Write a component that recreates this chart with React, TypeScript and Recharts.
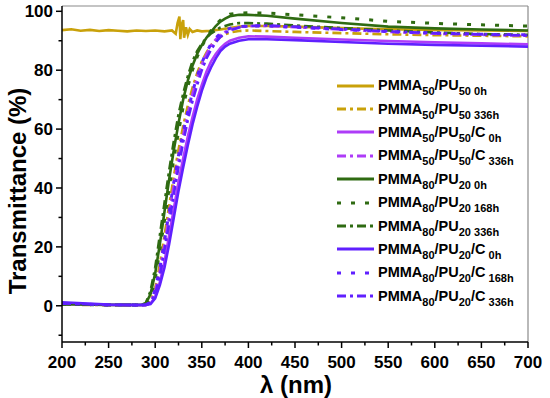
import React from 'react';
import { LineChart, Line, XAxis, YAxis, ReferenceLine, Legend, Label } from 'recharts';

// wavelength grid (nm) shared by the nine curves that start near 0 %
const wavelength = [200, 250, 285, 290, 295, 300, 305, 310, 315, 320, 325, 330, 335, 340, 345, 350, 355, 360, 365, 370, 375, 380, 390, 400, 420, 450, 500, 550, 600, 650, 700];

const pmma50pu50_336h = [0.4, 0.2, 0.2, 0.3, 1.5, 6, 14, 24, 34, 44, 53, 61, 68, 74, 79, 83, 86, 88.5, 90, 91.3, 92.2, 92.8, 93.3, 93.5, 93.3, 93, 92.6, 92.2, 91.9, 91.7, 91.5];
const pmma50pu50c_0h = [0.6, 0.3, 0.2, 0.3, 0.8, 3, 8, 15, 24, 33, 42, 50, 57.5, 64, 70, 75, 79.5, 83, 85.5, 87.5, 89, 90, 91, 91.5, 91.4, 91, 90.4, 89.9, 89.5, 89.1, 88.8];
const pmma50pu50c_336h = [0.5, 0.3, 0.2, 0.3, 1.2, 5, 12, 21, 31, 41, 50, 58, 65.5, 72, 77.5, 82, 85.5, 88.5, 90.5, 92, 93, 93.8, 94.5, 95, 95, 94.6, 93.8, 93, 92.4, 92, 91.7];
const pmma80pu20_0h = [0.5, 0.3, 0.3, 0.8, 4, 11, 21, 32, 43, 53, 62, 70, 76.5, 81.5, 85.5, 88.5, 91, 93, 95, 96.5, 97.5, 98.3, 98.8, 98.8, 98.5, 97.5, 96, 94.8, 94.2, 93.8, 93.5];
const pmma80pu20_168h = [0.5, 0.3, 0.3, 0.6, 3, 9, 19, 29, 40, 50, 59, 67.5, 74.5, 80, 84.5, 88, 91, 93.5, 95.5, 97, 98.2, 99, 99.4, 99.5, 99.4, 98.8, 97.8, 96.6, 95.9, 95.4, 95];
const pmma80pu20_336h = [0.6, 0.3, 0.3, 1, 5, 13, 24, 35, 46, 56, 65, 72, 78, 83, 86.5, 89, 91, 92.5, 93.5, 94.5, 95, 95.5, 96, 96, 95.8, 95.2, 94.3, 93.5, 92.8, 92.3, 92];
const pmma80pu20c_0h = [1.2, 0.4, 0.3, 0.3, 0.6, 2.5, 7, 13, 21, 30, 39, 47, 54.5, 61.5, 67.5, 73, 77.5, 81, 84, 86.5, 88, 89, 90, 90.5, 90.5, 90.2, 89.6, 89, 88.6, 88.3, 88];
const pmma80pu20c_168h = [0.8, 0.3, 0.2, 0.3, 1.3, 5.5, 13, 22, 32, 42, 51, 59, 66, 72.5, 78, 82.5, 86, 89, 91, 92.5, 93.5, 94.2, 94.8, 95, 95, 94.6, 93.8, 93.1, 92.6, 92.2, 92];
const pmma80pu20c_336h = [0.8, 0.3, 0.2, 0.3, 1, 4, 10, 19, 28, 38, 47, 55.5, 63, 69.5, 75, 80, 84, 87, 89.5, 91.3, 92.6, 93.5, 94.5, 95, 95.2, 94.8, 94, 93.2, 92.6, 92.2, 91.8];

// PMMA50/PU50 0h has its own grid (flat ~93 % with a noisy patch near 330 nm)
const pmma50pu50_0hWavelength = [200, 210, 220, 230, 240, 250, 260, 270, 280, 290, 300, 310, 318, 322, 324, 326, 327, 328, 330, 331, 333, 335, 337, 340, 345, 350, 360, 370, 380, 390, 400, 420, 450, 500, 550, 600, 650, 700];
const pmma50pu50_0h = [93.6, 93.9, 93.4, 93.7, 93.3, 93.6, 93.4, 93.2, 93.5, 93.3, 93.5, 93.2, 93.5, 92.4, 96, 98.2, 90.5, 95, 97, 91, 94.6, 92, 94, 93, 93.5, 93.2, 93.4, 93.8, 94.3, 94.8, 95, 95, 94.8, 94.3, 93.9, 93.7, 93.5, 93.3];

const xTicks = [200, 225, 250, 275, 300, 325, 350, 375, 400, 425, 450, 475, 500, 525, 550, 575, 600, 625, 650, 675, 700];
const yTicks = [-10, 0, 10, 20, 30, 40, 50, 60, 70, 80, 90, 100];

const Y_MIN = -12.3;
const Y_MAX = 101.8;

const GOLD = '#C9A10A';
const VIOLET = '#AE3CF8';
const GREEN = '#2F6B12';
const BLUE = '#6020FF';

const DOTTED = '4 10';
const DASHDOT = '9 4 3 4';

const FONT = "'Liberation Sans', Arial, sans-serif";

type Series = {
  key: string;
  color: string;
  dash?: string;
  label: string[];
};

// label parts starting with "_" are subscripts
const series: Series[] = [
  { key: 'au0', color: GOLD, label: ['PMMA', '_50', '/PU', '_50 0h'] },
  { key: 'au336', color: GOLD, dash: DASHDOT, label: ['PMMA', '_50', '/PU', '_50 336h'] },
  { key: 'v0', color: VIOLET, label: ['PMMA', '_50', '/PU', '_50', '/C', '_ 0h'] },
  { key: 'v336', color: VIOLET, dash: DASHDOT, label: ['PMMA', '_50', '/PU', '_50', '/C', '_ 336h'] },
  { key: 'g0', color: GREEN, label: ['PMMA', '_80', '/PU', '_20 0h'] },
  { key: 'g168', color: GREEN, dash: DOTTED, label: ['PMMA', '_80', '/PU', '_20 168h'] },
  { key: 'g336', color: GREEN, dash: DASHDOT, label: ['PMMA', '_80', '/PU', '_20 336h'] },
  { key: 'b0', color: BLUE, label: ['PMMA', '_80', '/PU', '_20', '/C', '_ 0h'] },
  { key: 'b168', color: BLUE, dash: DOTTED, label: ['PMMA', '_80', '/PU', '_20', '/C', '_ 168h'] },
  { key: 'b336', color: BLUE, dash: DASHDOT, label: ['PMMA', '_80', '/PU', '_20', '/C', '_ 336h'] },
];

const data = wavelength.map((x, i) => ({
  x,
  au336: pmma50pu50_336h[i],
  v0: pmma50pu50c_0h[i],
  v336: pmma50pu50c_336h[i],
  g0: pmma80pu20_0h[i],
  g168: pmma80pu20_168h[i],
  g336: pmma80pu20_336h[i],
  b0: pmma80pu20c_0h[i],
  b168: pmma80pu20c_168h[i],
  b336: pmma80pu20c_336h[i],
}));

const au0Data = pmma50pu50_0hWavelength.map((x, i) => ({ x, au0: pmma50pu50_0h[i] }));

const XTick = (props: any) => {
  const { x, y, payload } = props;
  const major = payload.value % 50 === 0;
  return (
    <g>
      <line x1={x} x2={x} y1={y} y2={y + (major ? 6 : 3.5)} stroke="#000" strokeWidth={1.5} />
      {major && (
        <text x={x} y={y + 26} textAnchor="middle" fontSize={17} fontWeight="bold" fontFamily={FONT} fill="#000">
          {payload.value}
        </text>
      )}
    </g>
  );
};

const YTick = (props: any) => {
  const { x, y, payload } = props;
  const major = payload.value % 20 === 0;
  return (
    <g>
      <line x1={x} x2={x - (major ? 6 : 3.5)} y1={y} y2={y} stroke="#000" strokeWidth={1.5} />
      {major && (
        <text x={x - 9} y={y + 6} textAnchor="end" fontSize={17} fontWeight="bold" fontFamily={FONT} fill="#000">
          {payload.value}
        </text>
      )}
    </g>
  );
};

const renderLegend = () => (
  <div style={{ fontFamily: FONT }}>
    {series.map((s) => (
      <div key={s.key} style={{ display: 'flex', alignItems: 'center', height: 23.4 }}>
        <svg width={41} height={10}>
          <line x1={2} x2={39} y1={5} y2={5} stroke={s.color} strokeWidth={3} strokeDasharray={s.dash} />
        </svg>
        <span style={{ marginLeft: 2, fontSize: 14.5, fontWeight: 'bold', lineHeight: '14px', whiteSpace: 'pre', color: '#000' }}>
          {s.label.map((part, i) =>
            part.startsWith('_') ? (
              <span key={i} style={{ fontSize: 11, position: 'relative', top: 5 }}>
                {part.slice(1)}
              </span>
            ) : (
              <span key={i}>{part}</span>
            )
          )}
        </span>
      </div>
    ))}
  </div>
);

export default function App() {
  return (
    <div style={{ position: 'absolute', left: 0, top: 0, width: 550, height: 398, background: '#fff' }}>
      <LineChart width={550} height={398} data={data} margin={{ top: 6, right: 22, left: 0, bottom: 0 }}>
        <XAxis
          dataKey="x"
          type="number"
          domain={[200, 700]}
          ticks={xTicks}
          interval={0}
          tickSize={0}
          tickMargin={0}
          tickLine={false}
          tick={<XTick />}
          axisLine={{ stroke: '#000', strokeWidth: 1.5 }}
          height={56}
          allowDataOverflow
        >
          <Label
            content={() => (
              <text x={296} y={393} textAnchor="middle" fontSize={24} fontWeight="bold" fontFamily={FONT} fill="#000">
                λ (nm)
              </text>
            )}
          />
        </XAxis>
        <YAxis
          type="number"
          domain={[Y_MIN, Y_MAX]}
          ticks={yTicks}
          interval={0}
          tickSize={0}
          tickMargin={0}
          tickLine={false}
          tick={<YTick />}
          axisLine={{ stroke: '#000', strokeWidth: 1.5 }}
          width={62}
          allowDataOverflow
        >
          <Label
            content={() => (
              <text
                x={0}
                y={0}
                transform="translate(26,191) rotate(-90)"
                textAnchor="middle"
                fontSize={24}
                fontWeight="bold"
                fontFamily={FONT}
                fill="#000"
              >
                Transmittance (%)
              </text>
            )}
          />
        </YAxis>
        <ReferenceLine y={Y_MAX} stroke="#8a8a8a" strokeWidth={1.2} />
        <ReferenceLine x={700} stroke="#8a8a8a" strokeWidth={1.2} />
        <Legend
          content={renderLegend}
          layout="vertical"
          align="center"
          verticalAlign="middle"
          wrapperStyle={{ position: 'absolute', left: 335, top: 74, right: 'auto', bottom: 'auto', width: 210 }}
        />
        {series.map((s) => (
          <Line
            key={s.key}
            data={s.key === 'au0' ? au0Data : undefined}
            dataKey={s.key}
            type="linear"
            stroke={s.color}
            strokeWidth={s.dash === DOTTED ? 3 : 2.6}
            strokeDasharray={s.dash}
            dot={false}
            activeDot={false}
            isAnimationActive={false}
          />
        ))}
      </LineChart>
    </div>
  );
}
